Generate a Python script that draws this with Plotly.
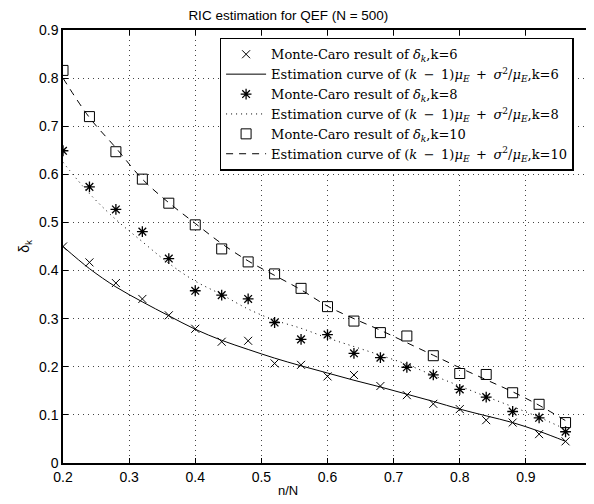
import plotly.graph_objects as go

x = [0.20, 0.24, 0.28, 0.32, 0.36, 0.40, 0.44, 0.48, 0.52, 0.56,
     0.60, 0.64, 0.68, 0.72, 0.76, 0.80, 0.84, 0.88, 0.92, 0.96]

mc_k6 = [0.450, 0.417, 0.374, 0.341, 0.307, 0.279, 0.252, 0.254, 0.207, 0.204,
         0.180, 0.183, 0.160, 0.141, 0.123, 0.112, 0.089, 0.084, 0.060, 0.045]
est_k6 = [0.450, 0.404, 0.366, 0.335, 0.306, 0.278, 0.255, 0.236, 0.218, 0.202,
          0.187, 0.172, 0.158, 0.143, 0.128, 0.112, 0.098, 0.084, 0.066, 0.045]

mc_k8 = [0.649, 0.574, 0.527, 0.481, 0.425, 0.358, 0.349, 0.341, 0.292, 0.257,
         0.267, 0.228, 0.219, 0.199, 0.183, 0.153, 0.137, 0.107, 0.094, 0.065]
est_k8 = [0.625, 0.560, 0.506, 0.460, 0.415, 0.378, 0.350, 0.320, 0.297, 0.280,
          0.260, 0.242, 0.224, 0.205, 0.182, 0.160, 0.138, 0.117, 0.095, 0.070]

mc_k10 = [0.816, 0.720, 0.647, 0.590, 0.540, 0.495, 0.445, 0.418, 0.393, 0.363,
          0.325, 0.295, 0.271, 0.264, 0.223, 0.186, 0.184, 0.146, 0.122, 0.084]
est_k10 = [0.800, 0.718, 0.655, 0.590, 0.541, 0.498, 0.456, 0.420, 0.390, 0.360,
           0.326, 0.300, 0.276, 0.250, 0.224, 0.198, 0.173, 0.148, 0.120, 0.088]

x_ticks = [0.2, 0.3, 0.4, 0.5, 0.6, 0.7, 0.8, 0.9, 1.0]
x_labels = ["0.2", "0.3", "0.4", "0.5", "0.6", "0.7", "0.8", "0.9", "1"]
y_ticks = [0, 0.1, 0.2, 0.3, 0.4, 0.5, 0.6, 0.7, 0.8, 0.9]
y_labels = ["0", "0.1", "0.2", "0.3", "0.4", "0.5", "0.6", "0.7", "0.8", "0.9"]

sp = "\u2002"
mc_name = "Monte-Caro result of <i>δ<sub>k</sub></i>,k={}"
est_name = ("Estimation curve of (<i>k</i>" + sp + "−" + sp + "1)<i>μ<sub>E</sub></i>"
            + sp + "+" + sp + "<i>σ</i><sup>2</sup>/<i>μ<sub>E</sub></i>,k={}")

fig = go.Figure()
fig.add_trace(go.Scatter(x=x, y=mc_k6, mode="markers", name=mc_name.format(6),
                         marker=dict(symbol="x-thin-open", size=8, color="black",
                                     line=dict(color="black", width=1))))
fig.add_trace(go.Scatter(x=x, y=est_k6, mode="lines", name=est_name.format(6),
                         line=dict(color="black", width=1, shape="spline")))
fig.add_trace(go.Scatter(x=x, y=mc_k8, mode="markers", name=mc_name.format(8),
                         marker=dict(symbol="asterisk-open", size=9, color="black",
                                     line=dict(color="black", width=1.3))))
fig.add_trace(go.Scatter(x=x, y=est_k8, mode="lines", name=est_name.format(8),
                         line=dict(color="black", width=1, dash="1px,4px", shape="spline")))
fig.add_trace(go.Scatter(x=x, y=mc_k10, mode="markers", name=mc_name.format(10),
                         marker=dict(symbol="square-open", size=10, color="black",
                                     line=dict(color="black", width=1))))
fig.add_trace(go.Scatter(x=x, y=est_k10, mode="lines", name=est_name.format(10),
                         line=dict(color="black", width=1, dash="7px,6px", shape="spline")))

axis_common = dict(
    showline=True, linecolor="black", linewidth=1.5, mirror="ticks",
    ticks="inside", ticklen=5, tickcolor="black",
    showgrid=True, gridcolor="#444444", griddash="1px,4px", gridwidth=1,
    zeroline=False,
    tickfont=dict(family="Liberation Sans, Arial", size=14, color="black"),
)

# the page body has an 8px default margin, so the figure is sized to fit the window
fig.update_layout(
    width=586, height=496,
    margin=dict(l=55, r=0, t=22, b=41),
    paper_bgcolor="white", plot_bgcolor="white",
    title=dict(text="RIC estimation for QEF (N = 500)", x=0.426, xref="paper",
               xanchor="center",
               y=0.986, yref="container", yanchor="middle",
               font=dict(family="Liberation Sans, Arial", size=13.5, color="black")),
    xaxis=dict(range=[0.2, 1.0], tickvals=x_ticks, ticktext=x_labels,
               **axis_common),
    yaxis=dict(range=[0, 0.9], tickvals=y_ticks, ticktext=y_labels,
               title=dict(text="δ<sub>k</sub>", standoff=6,
                          font=dict(family="Liberation Sans, Arial", size=14, color="black")),
               **axis_common),
    legend=dict(x=0.296, y=0.982, xanchor="left", yanchor="top",
                bgcolor="white", bordercolor="black", borderwidth=1.5,
                font=dict(family="DejaVu Serif, Liberation Serif", size=13, color="black"),
                tracegroupgap=0, itemwidth=40),
    showlegend=True,
    annotations=[dict(text="n/N", x=0.426, xref="paper", y=0, yref="paper",
                      xanchor="center", yanchor="middle", yshift=-27, showarrow=False,
                      font=dict(family="Liberation Sans, Arial", size=13, color="black"))],
)

fig.write_html("out.html")
